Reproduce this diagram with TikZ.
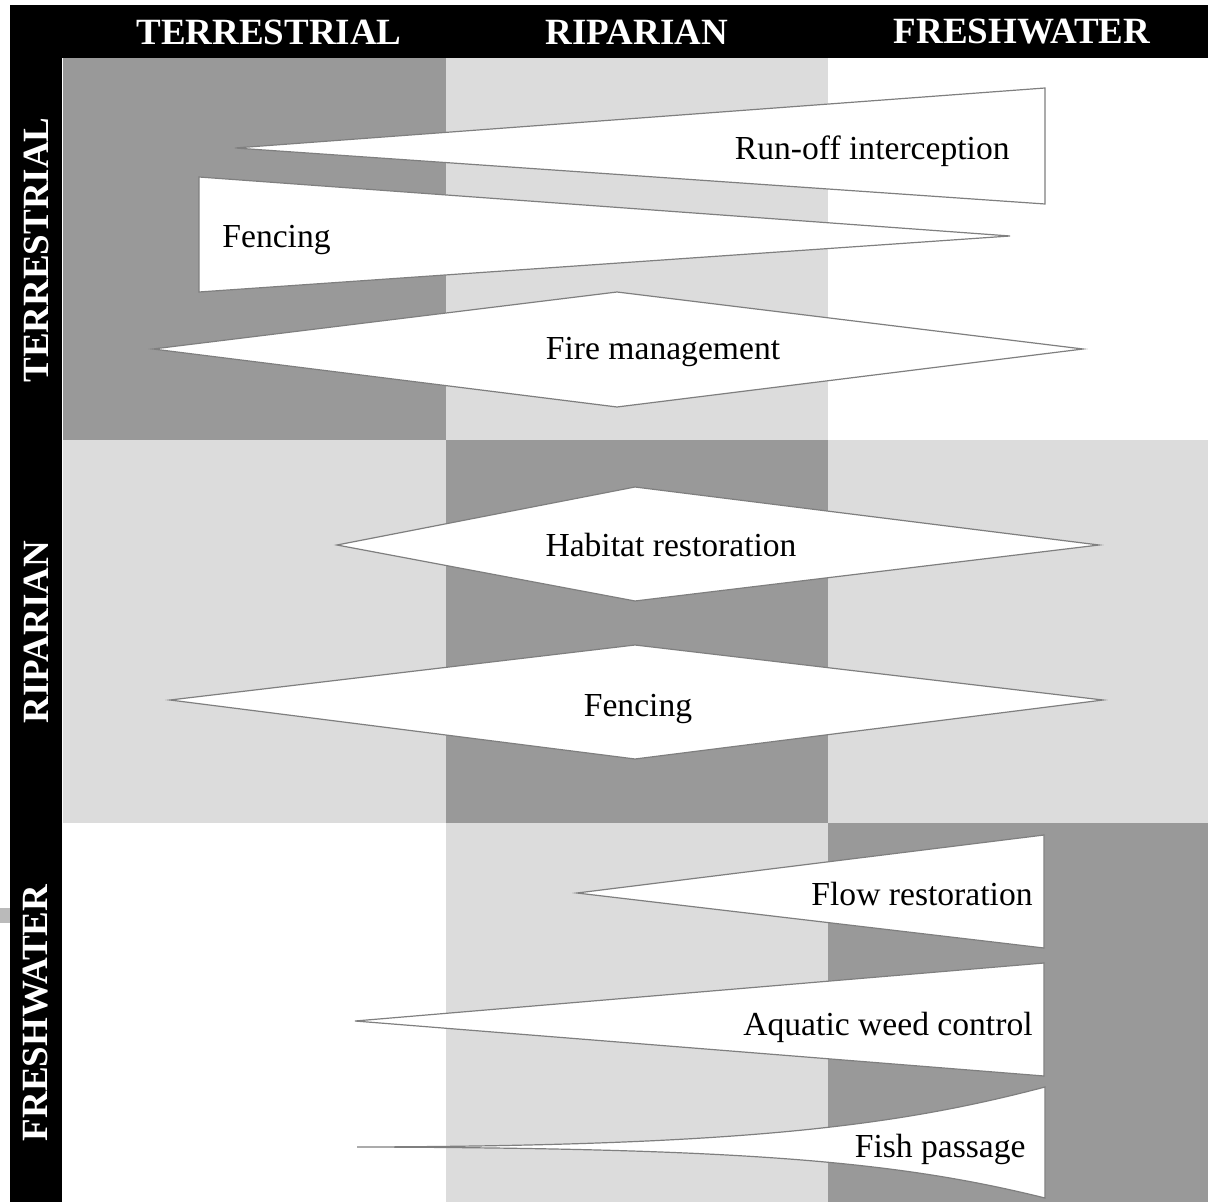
\documentclass[tikz,border=0pt]{standalone}
\usepackage{fontspec}
\setmainfont{Liberation Serif}
\usetikzlibrary{positioning}
\definecolor{celldark}{HTML}{999999}
\definecolor{celllight}{HTML}{DCDCDC}
\definecolor{edgegray}{HTML}{7F7F7F}

\begin{document}
\begin{tikzpicture}[x=0.5pt,y=-0.5pt,
  band/.style={fill=white, draw=edgegray, line width=0.6pt, line join=miter},
  head/.style={text=white, inner sep=0pt, font=\fontsize{18.5}{20}\selectfont\bfseries},
  lab/.style={inner sep=0pt, font=\fontsize{16.8}{19}\selectfont}]
  \useasboundingbox (0,0) rectangle (1208,1202);

  % black header bars
  \fill[black] (10,5) rectangle (1208,58);
  \fill[black] (10,5) rectangle (62,1202);
  \fill[black!27] (0,908) rectangle (10,923);

  % 3x3 cells
  \fill[celldark]  (63,58) rectangle (446,440);
  \fill[celllight] (446,58) rectangle (828,440);
  \fill[celllight] (63,440) rectangle (446,823);
  \fill[celldark]  (446,440) rectangle (828,823);
  \fill[celllight] (828,440) rectangle (1208,823);
  \fill[celllight] (446,823) rectangle (828,1202);
  \fill[celldark]  (828,823) rectangle (1208,1202);

  % column and row headings
  \node[head] (colterr) at (269,32) {TERRESTRIAL};
  \node[head] (colrip)  at (637,32) {RIPARIAN};
  \node[head] (colfresh) at (1022,32) {FRESHWATER};
  \node[head, rotate=90] (rowterr) at (36,250) {TERRESTRIAL};
  \node[head, rotate=90] (rowrip)  at (36,632) {RIPARIAN};
  \node[head, rotate=90] (rowfresh) at (36,1013) {FRESHWATER};

  % terrestrial actions
  \draw[band] (235,148) -- (1045,88) -- (1045,204) -- cycle;
  \draw[band] (199,177) -- (1010,236) -- (199,292) -- cycle;
  \draw[band] (153,349) -- (617,292) -- (1083,349) -- (617,407) -- cycle;
  \node[lab, anchor=base east] (runoff) at (1010,160) {Run-off interception};
  \node[lab, anchor=base west] (fenceterr) at (222,248) {Fencing};
  \node[lab, anchor=base] (fire) at (663,360) {Fire management};

  % riparian actions
  \draw[band] (337,545) -- (635,487) -- (1099,545) -- (635,601) -- cycle;
  \draw[band] (170,700) -- (635,645) -- (1103,700) -- (635,759) -- cycle;
  \node[lab, anchor=base] (habitat) at (671,556) {Habitat restoration};
  \node[lab, anchor=base] (fencerip) at (638,716) {Fencing};

  % freshwater actions
  \draw[band] (577,893) -- (1044,835) -- (1044,948) -- cycle;
  \draw[band] (355,1021) -- (1044,963) -- (1044,1076) -- cycle;
  \draw[band] (357,1147) .. controls (750,1146) and (900,1125) .. (1045,1087)
    -- (1045,1198) .. controls (900,1162) and (750,1148) .. (357,1147);
  \node[lab, anchor=base east] (flow) at (1033,905) {Flow restoration};
  \node[lab, anchor=base east] (weed) at (1033,1035) {Aquatic weed control};
  \node[lab, anchor=base east] (fish) at (1026,1157) {Fish passage};
\end{tikzpicture}
\end{document}
